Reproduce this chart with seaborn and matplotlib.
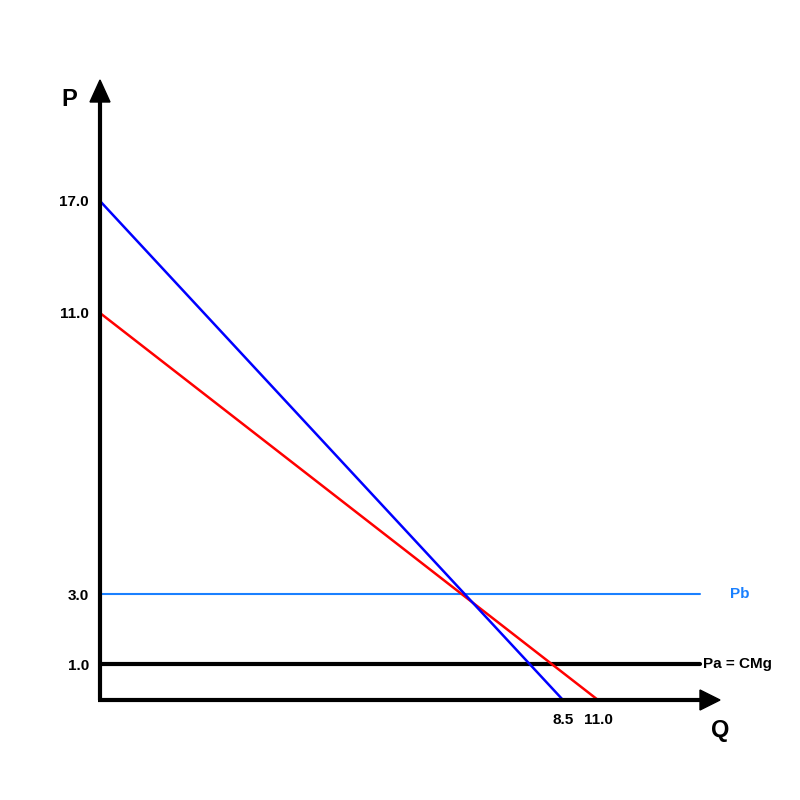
import matplotlib
matplotlib.use("Agg")
import matplotlib.pyplot as plt
import seaborn as sns
import pandas as pd
from matplotlib.patches import Polygon

sns.set_theme(style="white")
plt.rcParams['font.family'] = ['Liberation Sans', 'DejaVu Sans']
plt.rcParams['text.color'] = 'black'

# Schematic chart: tick values and their (schematic) positions on the axes
p_tick_values = [17.0, 11.0, 3.0, 1.0]
p_tick_pos = [499, 387, 106, 36]
q_tick_values = [8.5, 11.0]
q_tick_pos = [463, 498]

# Demand curves (intercepts refer to the tick values above)
blue_p_intercept, blue_q_intercept = 17.0, 8.5
red_p_intercept, red_q_intercept = 11.0, 11.0
pb_value = 3.0
pa_value = 1.0

def ppos(v):
    return p_tick_pos[p_tick_values.index(v)]

def qpos(v):
    return q_tick_pos[q_tick_values.index(v)]

x_end = 600   # end of horizontal lines / axis arrow base
x_tip = 620
y_tip = 620

fig = plt.figure(figsize=(8, 8), dpi=100)
ax = fig.add_axes([0.125, 0.125, 0.775, 0.775])
ax.set_xlim(0, x_tip)
ax.set_ylim(0, y_tip)
for s in ax.spines.values():
    s.set_visible(False)
ax.grid(False)

blue_df = pd.DataFrame({"q": [0, qpos(blue_q_intercept)], "p": [ppos(blue_p_intercept), 0]})
red_df = pd.DataFrame({"q": [0, qpos(red_q_intercept)], "p": [ppos(red_p_intercept), 0]})
pb_df = pd.DataFrame({"q": [0, x_end], "p": [ppos(pb_value)] * 2})
pa_df = pd.DataFrame({"q": [0, x_end], "p": [ppos(pa_value)] * 2})

sns.lineplot(data=pb_df, x="q", y="p", color="#1a80ff", linewidth=1.5, ax=ax, clip_on=False)
sns.lineplot(data=pa_df, x="q", y="p", color="black", linewidth=3, ax=ax, clip_on=False)
sns.lineplot(data=red_df, x="q", y="p", color="#ff0000", linewidth=1.8, ax=ax, clip_on=False)
sns.lineplot(data=blue_df, x="q", y="p", color="#0000ff", linewidth=1.8, ax=ax, clip_on=False)

# Axes with arrows
ax.plot([0, 0], [0, y_tip - 20], color="black", linewidth=3, clip_on=False, solid_capstyle="butt")
ax.plot([-2, x_tip - 20], [0, 0], color="black", linewidth=3, clip_on=False, solid_capstyle="butt")
ax.add_patch(Polygon([[0, y_tip], [-10, y_tip - 22], [10, y_tip - 22]], closed=True,
                     color="black", clip_on=False))
ax.add_patch(Polygon([[x_tip, 0], [x_tip - 20, -10], [x_tip - 20, 10]], closed=True,
                     color="black", clip_on=False))

ax.set_yticks(p_tick_pos, [f"{v:.1f}" for v in p_tick_values])
ax.set_xticks(q_tick_pos, [f"{v:.1f}" for v in q_tick_values])
ax.tick_params(axis="y", length=0, pad=8, labelsize=11)
ax.tick_params(axis="x", length=0, pad=9, labelsize=11)
for lab in ax.get_xticklabels() + ax.get_yticklabels():
    lab.set_fontweight("bold")
    lab.set_color("black")
ax.set_xlabel("")
ax.set_ylabel("")

ax.text(-31, y_tip - 20, "P", fontsize=17, fontweight="bold", color="black",
        ha="center", va="center", clip_on=False)
ax.text(x_tip, -30, "Q", fontsize=17, fontweight="bold", color="black",
        ha="center", va="center", clip_on=False)
ax.text(x_end + 40, ppos(pb_value), "Pb", fontsize=11, fontweight="bold", color="#1a80ff",
        ha="center", va="center", clip_on=False)
ax.text(x_end + 3, ppos(pa_value), "Pa = CMg", fontsize=11, fontweight="bold", color="black",
        ha="left", va="center", clip_on=False)

fig.savefig("out.png", dpi=100)
